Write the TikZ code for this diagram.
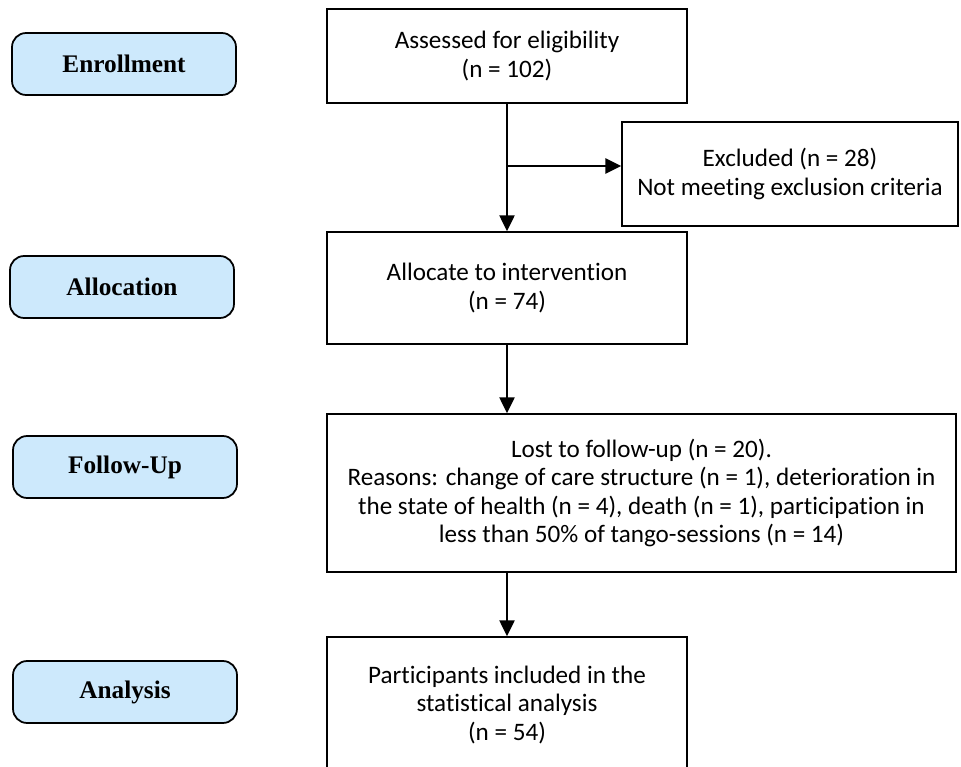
\documentclass[tikz,border=0pt]{standalone}
\usepackage{fontspec}
\setmainfont{Carlito}[Ligatures=NoCommon]
\newfontfamily\stagefont{Liberation Serif}
\usetikzlibrary{arrows.meta}
\definecolor{stagefill}{RGB}{205,233,252}

\begin{document}
\begin{tikzpicture}[x=0.02cm, y=-0.02cm,
  box/.style={draw, line width=0.9pt, align=center, inner sep=0pt,
    font=\fontsize{14.3}{16}\selectfont},
  stage/.style={draw, rounded corners=8pt, fill=stagefill, line width=1pt,
    minimum width=4.48cm, minimum height=1.24cm,
    font=\stagefont\bfseries\fontsize{14.4}{16}\selectfont},
  arr/.style={-{Triangle[length=9pt, width=8.5pt]}, line width=1.3pt}]
\path[use as bounding box, clip] (0,0) rectangle (961,767);

% stages on the left
\node[stage] (enrol) at (124,64) {Enrollment};
\node[stage] (alloclab) at (122,287) {Allocation};
\node[stage] (follow) at (125,467) {Follow-Up};
\node[stage] (analysis) at (125,692) {Analysis};

% flow boxes
\node[box, minimum width=7.2cm, minimum height=1.88cm] (assess) at (507,56)
  {Assessed for eligibility\\(n = 102)};
\node[box, minimum width=6.72cm, minimum height=2.08cm] (excl) at (790,174)
  {Excluded (n = 28)\\Not meeting exclusion criteria};
\node[box, minimum width=7.2cm, minimum height=2.24cm] (alloc) at (507,288)
  {Allocate to intervention\\(n = 74)};
\node[box, minimum width=12.58cm, minimum height=3.16cm] (lost) at (641.5,493)
  {Lost to follow-up (n = 20).\\
   Reasons: change of care structure (n = 1), deterioration in\\
   the state of health (n = 4), death (n = 1), participation in\\
   less than 50\% of tango-sessions (n = 14)};
\node[box, minimum width=7.2cm, minimum height=2.72cm] (part) at (507,705)
  {Participants included in the\\statistical analysis\\(n = 54)};

% arrows
\coordinate (split) at (507,166);
\draw[arr] (assess.south) -- (alloc.north);
\draw[arr] (split) -- (excl.west |- split);
\draw[arr] (alloc.south) -- (lost.north -| alloc.south);
\draw[arr] (lost.south -| part.north) -- (part.north);
\end{tikzpicture}
\end{document}
